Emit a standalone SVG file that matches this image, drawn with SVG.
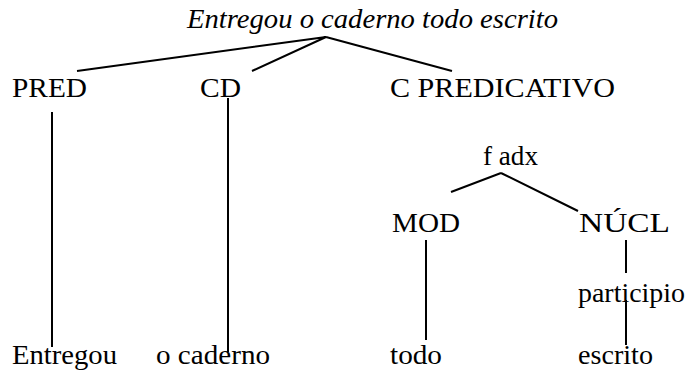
<svg xmlns="http://www.w3.org/2000/svg" width="688" height="372" viewBox="0 0 688 372">
<style>
text{font-family:"Liberation Serif","Times New Roman",serif;font-size:28px;fill:#000}
.it{font-style:italic}
.ln{stroke:#000;stroke-width:2;fill:none;stroke-linecap:butt}
</style>
<rect width="688" height="372" fill="#fff"/>
<g id="root"><text class="it" x="187" y="28" textLength="371" lengthAdjust="spacingAndGlyphs">Entregou o caderno todo escrito</text></g>
<g id="pred"><text x="12" y="97" textLength="75" lengthAdjust="spacingAndGlyphs">PRED</text></g>
<g id="cd"><text x="200" y="97" textLength="41" lengthAdjust="spacingAndGlyphs">CD</text></g>
<g id="cpred"><text x="390" y="97" textLength="225" lengthAdjust="spacingAndGlyphs">C PREDICATIVO</text></g>
<g id="fadx"><text x="483" y="165" textLength="55" lengthAdjust="spacingAndGlyphs">f adx</text></g>
<g id="mod"><text x="392" y="232" textLength="68" lengthAdjust="spacingAndGlyphs">MOD</text></g>
<g id="nucl"><text x="579" y="232" textLength="91" lengthAdjust="spacingAndGlyphs">NÚCL</text></g>
<g id="participio"><text x="578" y="302" textLength="107" lengthAdjust="spacingAndGlyphs">participio</text></g>
<g id="entregou"><text x="12" y="364" textLength="105" lengthAdjust="spacingAndGlyphs">Entregou</text></g>
<g id="ocaderno"><text x="156" y="364" textLength="114" lengthAdjust="spacingAndGlyphs">o caderno</text></g>
<g id="todo"><text x="390" y="364" textLength="52" lengthAdjust="spacingAndGlyphs">todo</text></g>
<g id="escrito"><text x="578" y="364" textLength="75" lengthAdjust="spacingAndGlyphs">escrito</text></g>
<g id="connectors" class="ln">
<path class="ln" d="M326 37 L77 71 M326 37 L252 71 M326 37 L452 71"/>
<path class="ln" d="M501 173 L451 192 M501 173 L578 211"/>
<path class="ln" d="M52 112 V347 M228 98 V352 M426 240 V340 M626 240 V273 M626 300 V345"/>
</g>
</svg>
